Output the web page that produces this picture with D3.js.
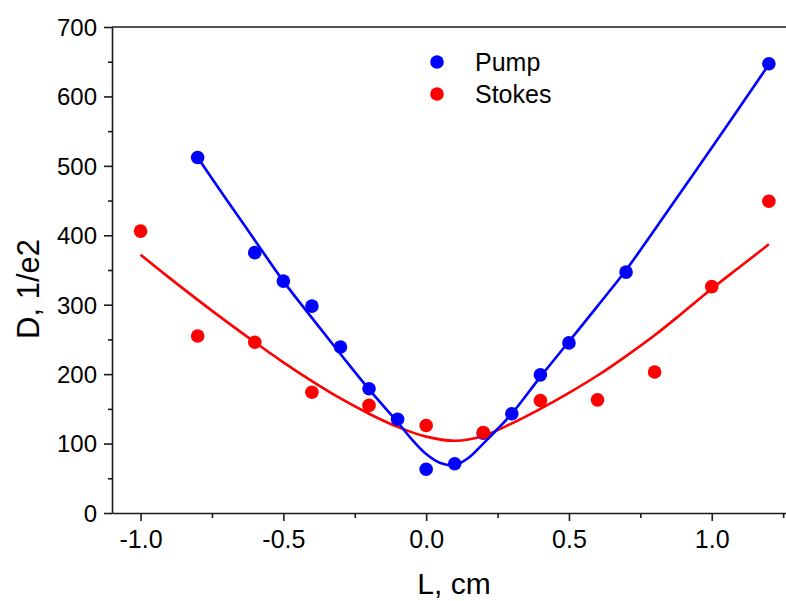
<!DOCTYPE html>
<html>
<head>
<meta charset="utf-8">
<script src="https://cdn.jsdelivr.net/npm/d3@7"></script>
<style>
  body { margin: 0; background: #fff; }
  svg { display: block; font-family: Arial, "Liberation Sans", sans-serif; }
</style>
</head>
<body>
<div id="chart"></div>
<script>
// measured points
var pumpL = [-0.8, -0.6, -0.5, -0.4, -0.3, -0.2, -0.1, 0.0, 0.1, 0.2, 0.3, 0.4, 0.5, 0.7, 1.2];
var pumpD = [512, 375, 334, 298, 239, 179, 135, 63, 71, 115, 143, 199, 245, 347, 647];

var stokesL = [-1.0, -0.8, -0.6, -0.4, -0.2, 0.0, 0.2, 0.4, 0.6, 0.8, 1.0, 1.2];
var stokesD = [406, 255, 246, 174, 155, 126, 116, 162, 163, 203, 326, 449];

// fit curves
var pumpFitL = [-0.8, -0.7, -0.6, -0.5, -0.4, -0.3, -0.2, -0.1, -0.05, 0.0, 0.05, 0.1, 0.15, 0.2, 0.25, 0.3, 0.4, 0.5, 0.6, 0.7, 0.8, 0.9, 1.0, 1.1, 1.2];
var pumpFitD = [512, 452, 393, 334, 281, 229, 178, 131, 106, 85, 72, 69, 80, 100, 121, 143, 196, 247, 298, 350, 408, 467, 526, 586, 646];

var stokesFitL = [-1.0, -0.9, -0.8, -0.7, -0.6, -0.5, -0.4, -0.3, -0.2, -0.1, 0.0, 0.1, 0.2, 0.3, 0.4, 0.5, 0.6, 0.7, 0.8, 0.9, 1.0, 1.1, 1.2];
var stokesFitD = [372, 339, 307, 276, 246, 217, 190, 165, 143, 124, 110, 104, 111, 129, 150, 173, 198, 226, 256, 289, 323, 355, 387];

var xMajor = [-1.0, -0.5, 0.0, 0.5, 1.0];
var xMinor = [-0.75, -0.25, 0.25, 0.75, 1.25];
var yMajor = [0, 100, 200, 300, 400, 500, 600, 700];
var yMinor = [50, 150, 250, 350, 450, 550, 650];

var seriesNames = ["Pump", "Stokes"];
var seriesColors = ["#0000ff", "#ff0000"];

var width = 786, height = 601;
var plotLeft = 112, plotRight = 786, plotTop = 27, plotBottom = 513;

var svg = d3.select("#chart").append("svg")
	.attr("width", width)
	.attr("height", height);

var x = d3.scaleLinear().domain([-1.1, 1.26]).range([plotLeft, plotRight]);
var y = d3.scaleLinear().domain([0, 700]).range([plotBottom, plotTop]);

var axisColor = "#1a1a1a";

// minor ticks first
svg.append("g")
	.attr("transform", "translate(0," + plotBottom + ")")
	.call(d3.axisBottom(x).tickValues(xMinor).tickSize(5).tickFormat(""))
	.call(g => g.select(".domain").remove());
svg.append("g")
	.attr("transform", "translate(" + plotLeft + ",0)")
	.call(d3.axisLeft(y).tickValues(yMinor).tickSize(4).tickFormat(""))
	.call(g => g.select(".domain").remove());

var xAxis = svg.append("g")
	.attr("transform", "translate(0," + plotBottom + ")")
	.call(d3.axisBottom(x).tickValues(xMajor).tickSize(8).tickSizeOuter(0)
		.tickFormat(function(d) { return d.toFixed(1); }));
xAxis.selectAll("text")
	.attr("y", 35)
	.attr("dy", null)
	.attr("font-size", 25);

var yAxis = svg.append("g")
	.attr("transform", "translate(" + plotLeft + ",0)")
	.call(d3.axisLeft(y).tickValues(yMajor).tickSize(8).tickSizeOuter(0));
yAxis.selectAll("text")
	.attr("x", -15)
	.attr("dy", "0.35em")
	.attr("font-size", 24);

svg.selectAll(".tick line, .domain")
	.attr("stroke", axisColor)
	.attr("stroke-width", 1.6);
svg.selectAll(".tick text")
	.attr("fill", "#000")
	.attr("font-family", "Arial, 'Liberation Sans', sans-serif");

// top frame line
svg.append("line")
	.attr("x1", plotLeft).attr("x2", plotRight)
	.attr("y1", plotTop).attr("y2", plotTop)
	.attr("stroke", axisColor)
	.attr("stroke-width", 1.6);

// axis titles
svg.append("text")
	.attr("x", 454)
	.attr("y", 594)
	.attr("text-anchor", "middle")
	.attr("font-size", 30)
	.text("L, cm");

svg.append("text")
	.attr("transform", "translate(39,289) rotate(-90)")
	.attr("text-anchor", "middle")
	.attr("font-size", 31)
	.text("D, 1/e2");

var line = d3.line()
	.x(function(d) { return x(d[0]); })
	.y(function(d) { return y(d[1]); })
	.curve(d3.curveCatmullRom);

var fits = [d3.zip(pumpFitL, pumpFitD), d3.zip(stokesFitL, stokesFitD)];
var points = [d3.zip(pumpL, pumpD), d3.zip(stokesL, stokesD)];

[1, 0].forEach(function(i) {
	svg.append("path")
		.datum(fits[i])
		.attr("fill", "none")
		.attr("stroke", seriesColors[i])
		.attr("stroke-width", 2.6)
		.attr("d", line);
});

[0, 1].forEach(function(i) {
	svg.append("g").selectAll("circle")
		.data(points[i])
		.enter().append("circle")
			.attr("cx", function(d) { return x(d[0]); })
			.attr("cy", function(d) { return y(d[1]); })
			.attr("r", 6.8)
			.attr("fill", seriesColors[i]);
});

// legend
var legend = svg.append("g");
seriesNames.forEach(function(name, i) {
	legend.append("circle")
		.attr("cx", 437)
		.attr("cy", 62 + i * 32)
		.attr("r", 6.8)
		.attr("fill", seriesColors[i]);
	legend.append("text")
		.attr("x", 475)
		.attr("y", 71 + i * 32)
		.attr("font-size", 25)
		.text(name);
});
</script>
</body>
</html>
